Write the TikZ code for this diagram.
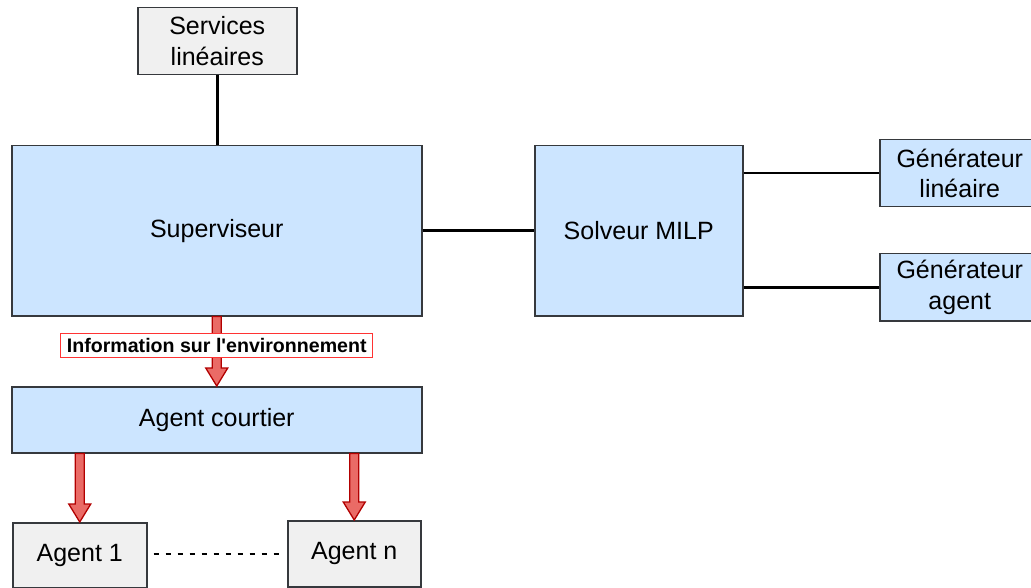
\documentclass[tikz,border=0pt]{standalone}
\usepackage{fontspec}
\setmainfont{Liberation Sans}
\usetikzlibrary{calc}
\definecolor{boxblue}{HTML}{CCE5FF}
\definecolor{boxgray}{HTML}{F0F0F0}
\definecolor{edgegray}{HTML}{36393D}
\definecolor{arrfill}{HTML}{EA6B66}
\definecolor{arrline}{HTML}{B20000}
\definecolor{lblred}{HTML}{FF3333}
\tikzset{
  basebox/.style={draw=edgegray, line width=1.5pt, inner sep=0pt, anchor=north west,
    align=center, font=\fontsize{25}{30.5}\selectfont},
  bluebox/.style={basebox, fill=boxblue},
  graybox/.style={basebox, fill=boxgray},
  link/.style={draw=black, line width=2.5pt},
  dotlink/.style={draw=black, line width=2pt, dash pattern=on 5pt off 7pt},
  flexsty/.style={fill=arrfill, draw=arrline, line width=1.3pt, line join=miter},
  lblbox/.style={draw=lblred, fill=white, line width=1.3pt, inner sep=0pt,
    minimum width=312pt, minimum height=24pt, font=\bfseries\fontsize{19.6}{22}\selectfont}
}
\newcommand\flexdown[2]{%
  \path let \p1=(#1), \p2=(#2) in
    [flexsty] (\x1-4.5pt,\y1) -- (\x1-4.5pt,\y2+18pt) -- (\x1-11pt,\y2+18pt)
    -- (\x1,\y2) -- (\x1+11pt,\y2+18pt) -- (\x1+4.5pt,\y2+18pt) -- (\x1+4.5pt,\y1) -- cycle;}
\begin{document}
\begin{tikzpicture}[x=1pt,y=-1pt]
\useasboundingbox (0,0) rectangle (1031,588);
\clip (0,0) rectangle (1031,588);
% nodes
\node[graybox, minimum width=159pt, minimum height=67pt] (sl) at (137,7) {Services\\lin\'eaires};
\node[bluebox, minimum width=410pt, minimum height=170pt] (sup) at (11,145) {Superviseur};
\node[bluebox, minimum width=208pt, minimum height=170pt] (sol) at (534,145) {Solveur MILP};
\node[bluebox, minimum width=160pt, minimum height=67pt] (gl) at (879,139) {G\'en\'erateur\\lin\'eaire};
\node[bluebox, minimum width=160pt, minimum height=67pt] (ga) at (879,253) {G\'en\'erateur\\agent};
\node[bluebox, minimum width=410pt, minimum height=66pt] (ac) at (11,386) {Agent courtier};
\node[graybox, minimum width=134pt, minimum height=65pt] (a1) at (12,522) {Agent 1};
\node[graybox, minimum width=133pt, minimum height=66pt] (an) at (287,520) {Agent n};
% plain connectors
\draw[link] (sl.south) -- (sl.south |- sup.north);
\draw[link] (sup.east) -- (sol.west);
\draw[link] (sol.east |- gl.west) -- (gl.west);
\draw[link] (sol.east |- ga.west) -- (ga.west);
\draw[dotlink, shorten <=6pt, shorten >=4pt] (a1.east |- an.west) -- (an.west);
% block arrows
\flexdown{sup.south}{ac.north}
\flexdown{a1.north |- ac.south}{a1.north}
\flexdown{an.north |- ac.south}{an.north}
% label on the arrow
\node[lblbox] (info) at ($(sup.south)!0.42!(ac.north)$) {Information sur l\textquotesingle environnement};
\end{tikzpicture}
\end{document}
